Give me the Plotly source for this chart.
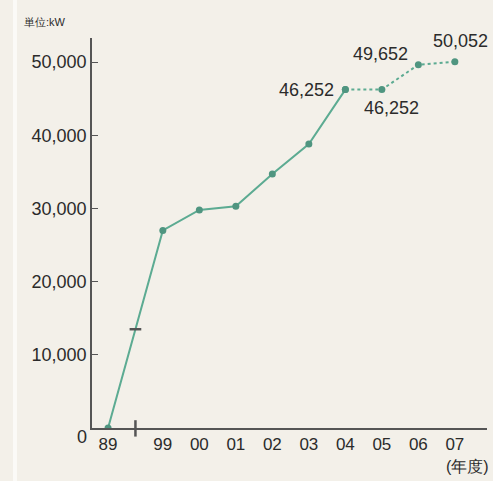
import plotly.graph_objects as go

# ---- data ----
years = ["89", "99", "00", "01", "02", "03", "04", "05", "06", "07"]
values = [0, 27000, 29800, 30300, 34700, 38800, 46252, 46252, 49652, 50052]
y_ticks = [10000, 20000, 30000, 40000, 50000]
y_tick_text = ["10,000", "20,000", "30,000", "40,000", "50,000"]
solid_end = "04"          # solid line up to FY04, dotted afterwards
labelled = ["04", "05", "06", "07"]
unit_label = "単位:kW"
x_unit_label = "(年度)"

# positions: a broken axis between 89 and 99 (1.5 slots gap)
xpos = [-1.5] + list(range(len(years) - 1))
k = years.index(solid_end)

line_color = "#5cab92"
marker_color = "#4f9580"
text_color = "#2b2b2b"
font = "Liberation Sans, Arial, sans-serif"

fig = go.Figure()
fig.add_trace(go.Scatter(x=xpos[:k + 1], y=values[:k + 1], mode="lines+markers",
                         line=dict(color=line_color, width=2),
                         marker=dict(color=marker_color, size=7),
                         hoverinfo="skip", showlegend=False))
fig.add_trace(go.Scatter(x=xpos[k:], y=values[k:], mode="lines+markers",
                         line=dict(color=line_color, width=2, dash="dot"),
                         marker=dict(color=marker_color, size=7),
                         hoverinfo="skip", showlegend=False))

# label placement (anchor, shifts) per labelled year
placement = {
    "04": dict(xanchor="right", yanchor="middle", xshift=-9, yshift=0),
    "05": dict(xanchor="center", yanchor="middle", xshift=10, yshift=-18),
    "06": dict(xanchor="right", yanchor="middle", xshift=-8, yshift=11),
    "07": dict(xanchor="center", yanchor="middle", xshift=6, yshift=21),
}
ann = []
for yr in labelled:
    i = years.index(yr)
    a = dict(x=xpos[i], y=values[i], text=f"{values[i]:,}", showarrow=False,
             font=dict(size=18, color=text_color, family=font))
    a.update(placement[yr])
    ann.append(a)

# y "0" label sits a bit below the axis
ann.append(dict(x=0, xref="paper", y=0, text="0", xanchor="right", yanchor="middle",
                xshift=-3, yshift=-9, showarrow=False,
                font=dict(size=18, color=text_color, family=font)))
ann.append(dict(x=0, xref="paper", y=1, yref="paper", text=unit_label,
                xanchor="center", yanchor="bottom", xshift=-47, yshift=8,
                showarrow=False, font=dict(size=11, color=text_color, family=font)))
ann.append(dict(x=1, xref="paper", y=0, yref="paper", text=x_unit_label,
                xanchor="right", yanchor="top", xshift=4, yshift=-28,
                showarrow=False, font=dict(size=16, color=text_color, family=font)))

# break marks: midway between first two positions
bx = (xpos[0] + xpos[1]) / 2
by = (values[0] + values[1]) / 2
shapes = [
    dict(type="line", xref="x", yref="y", x0=bx - 0.16, x1=bx + 0.16, y0=by, y1=by,
         line=dict(color="#555555", width=2.5)),
    dict(type="line", xref="x", yref="paper", x0=bx, x1=bx, y0=-0.022, y1=0.02,
         line=dict(color="#555555", width=2.5)),
    dict(type="rect", xref="paper", yref="paper", x0=-0.2, x1=-0.19, y0=-0.2, y1=1.2,
         fillcolor="#fbfaf7", line=dict(width=0), layer="below"),
]

fig.update_layout(
    width=493, height=481,
    margin=dict(l=92, r=6, t=38, b=53),
    paper_bgcolor="#f3f0e9", plot_bgcolor="#f3f0e9",
    annotations=ann, shapes=shapes,
    xaxis=dict(range=[-1.94, 8.88], tickvals=xpos, ticktext=years,
               showgrid=False, zeroline=False, showline=True, linecolor="#555555",
               linewidth=1.5, ticks="", tickfont=dict(size=17, color=text_color, family=font),
               fixedrange=True),
    yaxis=dict(range=[0, 53300], tickvals=y_ticks, ticktext=y_tick_text,
               showgrid=False, zeroline=False, showline=True, linecolor="#555555",
               linewidth=1.5, ticks="inside", ticklen=6, tickcolor="#555555",
               tickfont=dict(size=18, color=text_color, family=font), fixedrange=True),
)

fig.write_html("out.html")
